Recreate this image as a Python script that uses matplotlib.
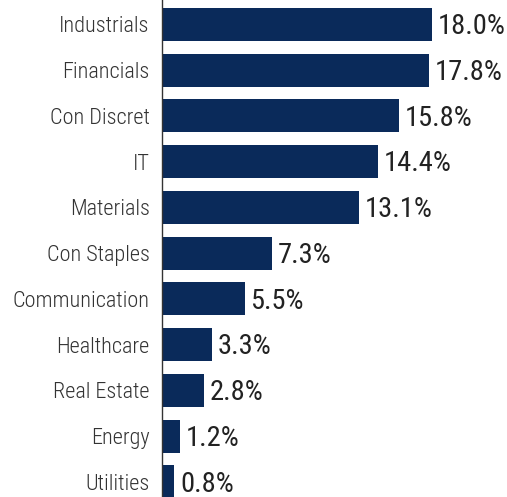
import matplotlib
matplotlib.use("Agg")
import matplotlib.pyplot as plt

categories = ["Industrials", "Financials", "Con Discret", "IT", "Materials",
              "Con Staples", "Communication", "Healthcare", "Real Estate",
              "Energy", "Utilities"]
values = [18.0, 17.8, 15.8, 14.4, 13.1, 7.3, 5.5, 3.3, 2.8, 1.2, 0.8]
value_labels = ["18.0%", "17.8%", "15.8%", "14.4%", "13.1%", "7.3%", "5.5%",
                "3.3%", "2.8%", "1.2%", "0.8%"]

plt.rcParams["font.family"] = ["Roboto Condensed", "DejaVu Sans"]

fig = plt.figure(figsize=(5.07, 4.97), dpi=100)
ax = fig.add_axes([162 / 507, 0, 345 / 507, 1])
y = list(range(len(categories)))
ax.barh(y, values, height=0.72, color="#0A2A5A")
ax.set_xlim(0, 23)
ax.set_ylim(10.33, -0.535)
ax.set_yticks(y)
ax.set_yticklabels(categories, fontsize=16, fontweight=300, color="#333333")
ax.tick_params(axis="y", length=0, pad=9)
ax.set_xticks([])
for s in ["top", "right", "bottom"]:
    ax.spines[s].set_visible(False)
ax.spines["left"].set_color("#333333")
ax.spines["left"].set_linewidth(1.0)
for yi, v, lab in zip(y, values, value_labels):
    ax.text(v + 0.4, yi + 0.05, lab, va="center", ha="left", fontsize=20.5,
            color="#222222")
fig.savefig("out.png", dpi=100)
